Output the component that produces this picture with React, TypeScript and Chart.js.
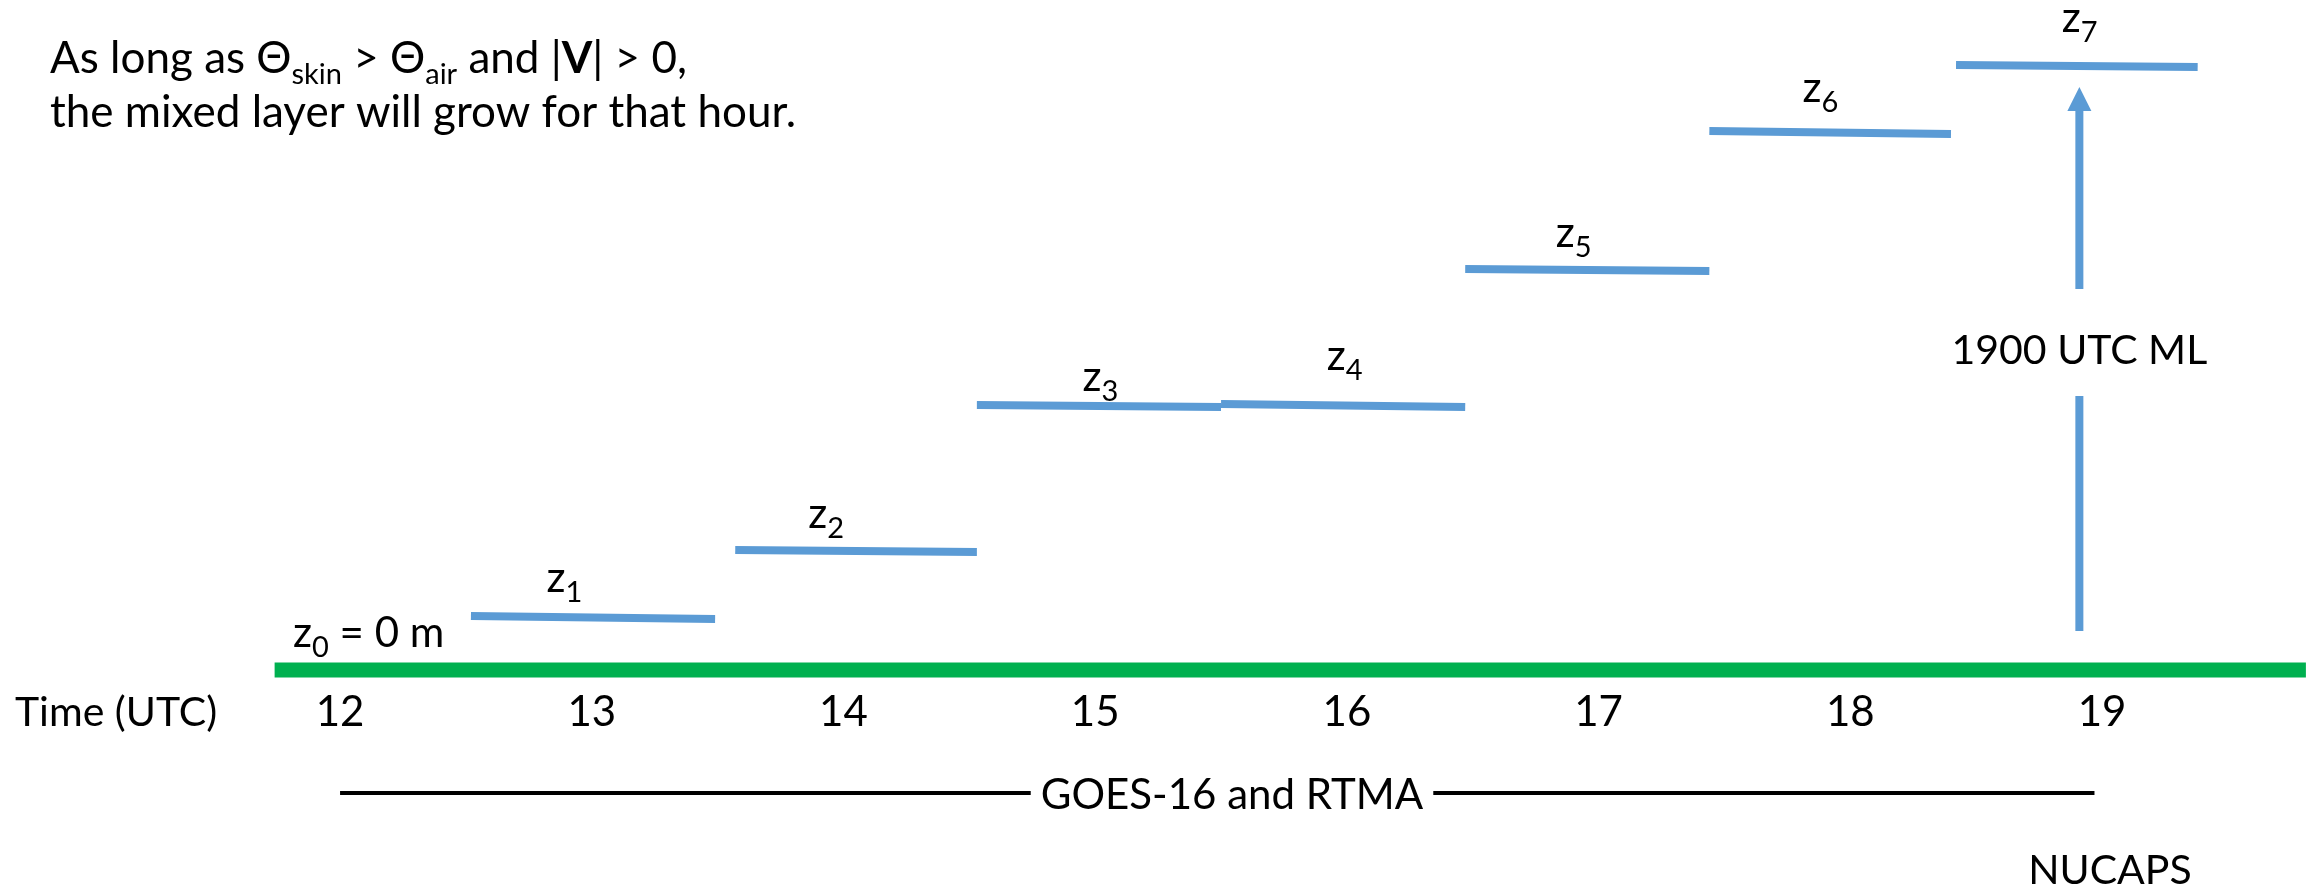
import { useEffect, useRef } from "react";
import Chart from "chart.js/auto";

// ---- data (x in hours UTC, y in relative height units above the ground line) ----
const hourTicks = [12, 13, 14, 15, 16, 17, 18, 19];
const layerNames = ["1", "2", "3", "4", "5", "6", "7"];
const layerStartHour = [12.52, 13.57, 14.53, 15.5, 16.47, 17.44, 18.42];
const layerEndHour = [13.49, 14.53, 15.5, 16.47, 17.44, 18.4, 19.38];
const layerStartHeight = [54, 120, 265, 266, 401, 539, 605];
const layerEndHeight = [51, 118, 263, 263, 399, 536, 603];
const labelHour = [12.82, 13.86, 14.95, 15.92, 16.83, 17.81, 18.84];
const labelHeight = [78, 142, 279, 300, 423, 568, 638];
const groundSpan = [11.74, 19.81];
const sourceSpan = [12.0, 18.97];
const sourceLevel = -123;
const arrowHour = 18.91;
const arrowLower = [39, 274];
const arrowUpper = [381, 559];
const arrowTip = 583;

const FONT = "Lato, 'Open Sans', sans-serif";

type Run = { t: string; size: number; bold?: boolean; dy?: number };

function runsWidth(ctx: CanvasRenderingContext2D, runs: Run[]) {
  let w = 0;
  for (const r of runs) {
    ctx.font = `${r.bold ? "bold " : ""}${r.size}px ${FONT}`;
    w += ctx.measureText(r.t).width;
  }
  return w;
}

function drawRuns(
  ctx: CanvasRenderingContext2D,
  runs: Run[],
  x: number,
  y: number,
  align: "left" | "center" = "left"
) {
  let cx = x;
  if (align === "center") cx = x - runsWidth(ctx, runs) / 2;
  ctx.textAlign = "left";
  ctx.textBaseline = "alphabetic";
  ctx.fillStyle = "#000";
  for (const r of runs) {
    ctx.font = `${r.bold ? "bold " : ""}${r.size}px ${FONT}`;
    ctx.fillText(r.t, cx, y + (r.dy || 0));
    cx += ctx.measureText(r.t).width;
  }
}

const textPlugin = {
  id: "diagramText",
  afterDatasetsDraw(chart: any) {
    const ctx: CanvasRenderingContext2D = chart.ctx;
    const xs = chart.scales.x;
    const ys = chart.scales.y;
    const X = (v: number) => xs.getPixelForValue(v);
    const Y = (v: number) => ys.getPixelForValue(v);
    ctx.save();

    // arrow head
    const ax = X(arrowHour);
    const tipY = Y(arrowTip);
    const baseY = Y(arrowUpper[1]);
    ctx.fillStyle = "#5B9BD5";
    ctx.beginPath();
    ctx.moveTo(ax, tipY);
    ctx.lineTo(ax - 12, baseY);
    ctx.lineTo(ax + 12, baseY);
    ctx.closePath();
    ctx.fill();

    // title
    const T = 44;
    const S = 29;
    drawRuns(
      ctx,
      [
        { t: "As long as Θ", size: T },
        { t: "skin", size: S, dy: 11 },
        { t: " > Θ", size: T },
        { t: "air", size: S, dy: 11 },
        { t: " and |", size: T },
        { t: "V", size: T, bold: true },
        { t: "| > 0,", size: T },
      ],
      50,
      73
    );
    drawRuns(ctx, [{ t: "the mixed layer will grow for that hour.", size: T }], 50, 127);

    // z0 label
    drawRuns(
      ctx,
      [
        { t: "z", size: 42 },
        { t: "0", size: 29, dy: 10 },
        { t: " = 0 m", size: 42 },
      ],
      293,
      647
    );

    // layer labels
    for (let i = 0; i < layerNames.length; i++) {
      drawRuns(
        ctx,
        [
          { t: "z", size: 42 },
          { t: layerNames[i], size: 29, dy: 10 },
        ],
        X(labelHour[i]),
        Y(labelHeight[i])
      );
    }

    // arrow label
    drawRuns(ctx, [{ t: "1900 UTC ML", size: 41 }], ax, 364, "center");

    // time axis
    const tickY = 726;
    drawRuns(ctx, [{ t: "Time (UTC)", size: 41 }], 15, tickY);
    for (const h of hourTicks) {
      drawRuns(ctx, [{ t: String(h), size: 42 }], X(h), tickY, "center");
    }

    // source label with white gap
    const srcRuns = [{ t: "GOES-16 and RTMA", size: 42 }];
    const sw = runsWidth(ctx, srcRuns);
    const scx = 1232;
    const sy = Y(sourceLevel);
    ctx.fillStyle = "#fff";
    ctx.fillRect(scx - sw / 2 - 10, sy - 6, sw + 20, 12);
    drawRuns(ctx, srcRuns, scx, 809, "center");

    drawRuns(ctx, [{ t: "NUCAPS", size: 41 }], 2110, 884, "center");
    ctx.restore();
  },
};

export default function App() {
  const ref = useRef<HTMLCanvasElement | null>(null);
  useEffect(() => {
    if (!ref.current) return;
    const line = (pts: { x: number; y: number }[], color: string, width: number) => ({
      data: pts,
      borderColor: color,
      backgroundColor: color,
      borderWidth: width,
      pointRadius: 0,
      borderCapStyle: "butt" as const,
      showLine: true,
      fill: false,
      clip: false as any,
      tension: 0,
    });
    const datasets: any[] = [];
    datasets.push(
      line(
        [
          { x: groundSpan[0], y: 0 },
          { x: groundSpan[1], y: 0 },
        ],
        "#00B050",
        15
      )
    );
    for (let i = 0; i < layerNames.length; i++) {
      datasets.push(
        line(
          [
            { x: layerStartHour[i], y: layerStartHeight[i] },
            { x: layerEndHour[i], y: layerEndHeight[i] },
          ],
          "#5B9BD5",
          8
        )
      );
    }
    datasets.push(
      line(
        [
          { x: sourceSpan[0], y: sourceLevel },
          { x: sourceSpan[1], y: sourceLevel },
        ],
        "#000000",
        4
      )
    );
    datasets.push(
      line(
        [
          { x: arrowHour, y: arrowLower[0] },
          { x: arrowHour, y: arrowLower[1] },
        ],
        "#5B9BD5",
        8
      )
    );
    datasets.push(
      line(
        [
          { x: arrowHour, y: arrowUpper[0] },
          { x: arrowHour, y: arrowUpper[1] },
        ],
        "#5B9BD5",
        8
      )
    );

    const chart = new Chart(ref.current, {
      type: "scatter",
      data: { datasets },
      options: {
        animation: false,
        responsive: false,
        devicePixelRatio: 1,
        layout: { padding: 0, autoPadding: false } as any,
        scales: {
          x: { type: "linear", min: 10.649, max: 19.866, display: false },
          y: { type: "linear", min: -222, max: 670, display: false },
        },
        plugins: { legend: { display: false }, tooltip: { enabled: false } },
        events: [],
      },
      plugins: [textPlugin],
    });
    return () => chart.destroy();
  }, []);
  return (
    <div style={{ position: "fixed", left: 0, top: 0, width: 2320, height: 892, background: "#fff" }}>
      <canvas ref={ref} width={2320} height={892} style={{ width: 2320, height: 892, display: "block" }} />
    </div>
  );
}
